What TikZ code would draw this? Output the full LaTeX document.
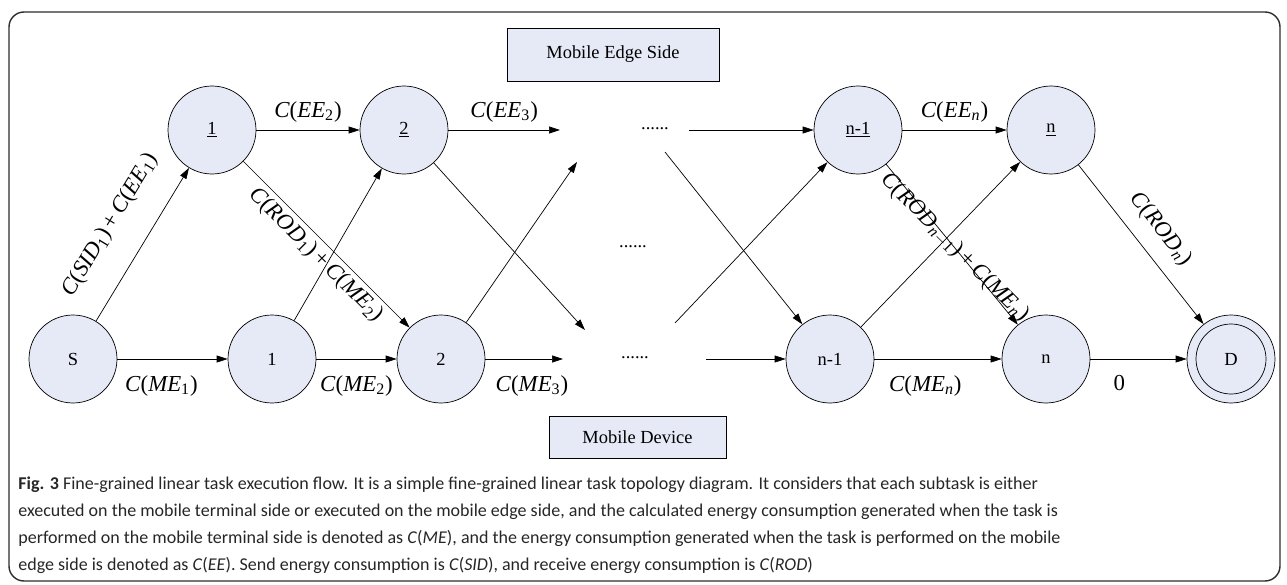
\documentclass[tikz,border=0pt]{standalone}
\usepackage{fontspec}
\setmainfont{Liberation Serif}
\newfontfamily\capfont{Carlito}
\usepackage{tikz}
\usetikzlibrary{arrows.meta, positioning}
\definecolor{statefill}{RGB}{230, 234, 246}
\definecolor{framegray}{RGB}{45, 45, 45}
\newcommand{\cst}[2]{\textit{C}(\textit{#1}\textsubscript{#2})}
\newcommand{\plus}{\,+\,}

\begin{document}
\begin{tikzpicture}[>={Triangle[length=2.2mm,width=1.4mm]},
    task/.style={draw, circle, fill=statefill, minimum size=1.76cm, inner sep=0pt, font=\fontsize{10.5}{12}\selectfont},
    sidebox/.style={draw, rectangle, fill=statefill, inner sep=0pt, font=\fontsize{10.5}{12}\selectfont},
    cost/.style={font=\fontsize{13}{15}\selectfont}]
    \useasboundingbox (0,0) rectangle (25.74,11.68);
    \draw[framegray, line width=0.8pt, rounded corners=0.3cm] (0.18,0.06) rectangle (25.6,11.44);

    % Side boxes
    \node[sidebox, minimum width=4.24cm, minimum height=1.06cm] (edgebox) at (12.26,10.59) {Mobile Edge Side};
    \node[sidebox, minimum width=3.54cm, minimum height=0.84cm] (devbox) at (12.75,2.94) {Mobile Device};

    % Mobile edge side tasks
    \node[task] (e1) at (4.24,9.08) {\underline{1}};
    \node[task] (e2) at (8.08,9.08) {\underline{2}};
    \node[task] (en1) at (17.16,9.08) {\underline{n-1}};
    \node[task] (en) at (21.02,9.08) {\underline{n}};

    % Mobile device tasks
    \node[task] (s) at (1.46,4.5) {S};
    \node[task] (m1) at (5.44,4.5) {1};
    \node[task] (m2) at (8.82,4.5) {2};
    \node[task] (mn1) at (16.6,4.5) {n-1};
    \node[task] (mn) at (20.92,4.5) {n};
    \node[task, path picture={\draw (path picture bounding box.center) circle (0.7cm);}] (d) at (24.62,4.5) {D};

    % Dots
    \node[font=\fontsize{10.5}{12}\selectfont] (dtop) at (13.1,9.1) {......};
    \node[font=\fontsize{10.5}{12}\selectfont] (dmid) at (12.66,6.75) {......};
    \node[font=\fontsize{10.5}{12}\selectfont] (dbot) at (12.7,4.53) {......};

    % Open ends
    \coordinate (t3) at (11.2,9.08);
    \coordinate (tn) at (13.78,9.08);
    \coordinate (x2d) at (11.7,5.08);
    \coordinate (x2u) at (11.54,8.44);
    \coordinate (xnd) at (13.3,8.64);
    \coordinate (xnu) at (13.5,5.22);
    \coordinate (b3) at (11.26,4.5);
    \coordinate (bn) at (14.12,4.5);

    % Edges
    \draw[->] (s) -- node[cost, sloped, above=12pt] {\cst{SID}{1}\plus\cst{EE}{1}} (e1);
    \draw[->] (s) -- node[cost, below=6pt, pos=0.4] {\cst{ME}{1}} (m1);
    \draw[->] (e1) -- node[cost, above=1pt] {\cst{EE}{2}} (e2);
    \draw[->] (e1) -- node[cost, sloped, below=-1pt] {\cst{ROD}{1}\plus\cst{ME}{2}} (m2);
    \draw[->] (m1) -- (e2);
    \draw[->] (m1) -- node[cost, below=6pt] {\cst{ME}{2}} (m2);
    \draw[->] (e2) -- node[cost, above=1pt] {\cst{EE}{3}} (t3);
    \draw[->] (e2) -- (x2d);
    \draw[->] (m2) -- (x2u);
    \draw[->] (m2) -- node[cost, below=6pt, pos=0.6] {\cst{ME}{3}} (b3);
    \draw[->] (tn) -- (en1);
    \draw[->] (xnd) -- (mn1);
    \draw[->] (xnu) -- (en1);
    \draw[->] (bn) -- (mn1);
    \draw[->] (en1) -- node[cost, above=1pt] {\cst{EE}{\textit{n}}} (en);
    \draw[->] (en1) -- node[cost, sloped, rotate=5.6, pos=0.52] {\cst{ROD}{\textit{n}$-$1}\plus\cst{ME}{\textit{n}}} (mn);
    \draw[->] (mn1) -- (en);
    \draw[->] (mn1) -- node[cost, below=6pt, pos=0.4] {\cst{ME}{\textit{n}}} (mn);
    \draw[->] (en) -- node[cost, sloped, above=5pt] {\cst{ROD}{\textit{n}}} (d);
    \draw[->] (mn) -- node[cost, below=6pt, pos=0.3] {0} (d);

    % Caption
    \node[anchor=north west, inner sep=0pt, align=left, text=black!85,
        font=\capfont\fontsize{10.25}{15.2}\selectfont] (caption) at (0.36,2.14)
        {\textbf{Fig. 3} Fine-grained linear task execution flow. It is a simple fine-grained linear task topology diagram. It considers that each subtask is either\\
        executed on the mobile terminal side or executed on the mobile edge side, and the calculated energy consumption generated when the task is\\
        performed on the mobile terminal side is denoted as \textit{C}(\textit{ME}), and the energy consumption generated when the task is performed on the mobile\\
        edge side is denoted as \textit{C}(\textit{EE}). Send energy consumption is \textit{C}(\textit{SID}), and receive energy consumption is \textit{C}(\textit{ROD})};
\end{tikzpicture}
\end{document}
